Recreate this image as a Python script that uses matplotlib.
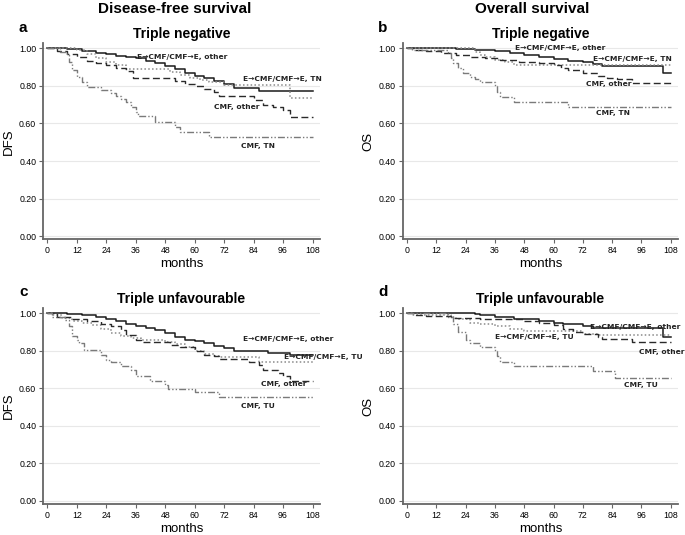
import matplotlib
matplotlib.use('Agg')
import matplotlib.pyplot as plt

plt.rcParams['font.family'] = ['Liberation Sans', 'DejaVu Sans']

# Kaplan-Meier step curves (months, survival)
# panel a: DFS, triple negative
a_other_t = [0, 8, 14, 20, 24, 28, 32, 36, 40, 44, 48, 52, 56, 60, 64, 68, 72, 76, 86, 108]
a_other_s = [1.0, 0.995, 0.985, 0.975, 0.97, 0.96, 0.955, 0.95, 0.935, 0.92, 0.905, 0.89, 0.87, 0.855, 0.84, 0.825, 0.81, 0.79, 0.775, 0.775]
a_tn_t = [0, 12, 16, 20, 24, 28, 32, 48, 50, 54, 58, 62, 66, 72, 99, 108]
a_tn_s = [1.0, 0.99, 0.97, 0.95, 0.93, 0.91, 0.89, 0.89, 0.875, 0.86, 0.845, 0.83, 0.82, 0.805, 0.735, 0.735]
a_cmfo_t = [0, 4, 8, 12, 16, 20, 24, 28, 32, 35, 48, 52, 56, 60, 64, 68, 70, 80, 84, 88, 92, 96, 99, 108]
a_cmfo_s = [1.0, 0.985, 0.97, 0.955, 0.935, 0.92, 0.91, 0.895, 0.88, 0.84, 0.84, 0.825, 0.81, 0.80, 0.785, 0.77, 0.745, 0.745, 0.725, 0.70, 0.69, 0.67, 0.635, 0.635]
a_cmft_t = [0, 5, 8, 9, 10, 12, 14, 16, 22, 26, 28, 30, 32, 34, 36, 37, 44, 52, 54, 66, 108]
a_cmft_s = [1.0, 0.98, 0.965, 0.93, 0.885, 0.85, 0.82, 0.795, 0.78, 0.765, 0.745, 0.73, 0.715, 0.69, 0.66, 0.64, 0.61, 0.58, 0.555, 0.53, 0.53]

# panel b: OS, triple negative
b_other_t = [0, 20, 28, 36, 42, 48, 54, 60, 66, 72, 76, 80, 105, 108]
b_other_s = [1.0, 0.995, 0.99, 0.985, 0.975, 0.965, 0.955, 0.945, 0.935, 0.925, 0.915, 0.905, 0.868, 0.868]
b_tn_t = [0, 28, 30, 32, 36, 40, 44, 108]
b_tn_s = [1.0, 0.98, 0.965, 0.955, 0.94, 0.925, 0.91, 0.91]
b_cmfo_t = [0, 3, 8, 14, 20, 26, 32, 38, 46, 54, 60, 63, 66, 72, 78, 82, 86, 92, 108]
b_cmfo_s = [1.0, 0.99, 0.985, 0.975, 0.965, 0.955, 0.95, 0.94, 0.93, 0.92, 0.91, 0.895, 0.885, 0.87, 0.855, 0.845, 0.835, 0.815, 0.815]
b_cmft_t = [0, 2, 17, 18, 19, 21, 23, 26, 28, 30, 36, 37, 38, 44, 66, 108]
b_cmft_s = [1.0, 0.99, 0.975, 0.95, 0.92, 0.895, 0.87, 0.85, 0.835, 0.82, 0.80, 0.77, 0.74, 0.715, 0.69, 0.69]

# panel c: DFS, triple unfavourable
c_other_t = [0, 8, 14, 20, 24, 28, 32, 36, 40, 44, 48, 52, 56, 60, 64, 68, 72, 76, 90, 99, 108]
c_other_s = [1.0, 0.995, 0.99, 0.98, 0.97, 0.96, 0.945, 0.93, 0.92, 0.91, 0.895, 0.875, 0.86, 0.85, 0.84, 0.825, 0.815, 0.80, 0.79, 0.775, 0.775]
c_tu_t = [0, 2, 6, 10, 14, 18, 22, 26, 30, 34, 38, 48, 52, 56, 60, 64, 68, 70, 86, 108]
c_tu_s = [1.0, 0.99, 0.975, 0.96, 0.95, 0.935, 0.915, 0.895, 0.88, 0.87, 0.86, 0.845, 0.835, 0.82, 0.80, 0.785, 0.77, 0.765, 0.74, 0.74]
c_cmfo_t = [0, 4, 10, 16, 22, 26, 30, 32, 36, 38, 50, 54, 60, 64, 68, 70, 82, 86, 88, 94, 96, 99, 108]
c_cmfo_s = [1.0, 0.98, 0.97, 0.96, 0.945, 0.93, 0.91, 0.885, 0.86, 0.845, 0.83, 0.82, 0.80, 0.78, 0.77, 0.755, 0.74, 0.725, 0.70, 0.68, 0.665, 0.64, 0.64]
c_cmft_t = [0, 2, 7, 9, 10, 12, 13, 15, 22, 24, 26, 30, 34, 36, 42, 48, 49, 60, 70, 108]
c_cmft_s = [1.0, 0.98, 0.965, 0.93, 0.88, 0.86, 0.84, 0.805, 0.78, 0.75, 0.74, 0.72, 0.70, 0.665, 0.64, 0.62, 0.595, 0.58, 0.555, 0.555]

# panel d: OS, triple unfavourable
d_other_t = [0, 28, 30, 36, 44, 54, 60, 64, 72, 76, 105, 108]
d_other_s = [1.0, 0.995, 0.99, 0.98, 0.97, 0.96, 0.95, 0.94, 0.93, 0.92, 0.875, 0.875]
d_tu_t = [0, 2, 18, 20, 26, 30, 36, 42, 48, 66, 72, 78, 108]
d_tu_s = [1.0, 0.99, 0.98, 0.97, 0.95, 0.94, 0.93, 0.915, 0.905, 0.905, 0.89, 0.883, 0.883]
d_cmfo_t = [0, 3, 8, 18, 30, 40, 48, 54, 60, 64, 68, 72, 78, 80, 92, 108]
d_cmfo_s = [1.0, 0.99, 0.985, 0.975, 0.97, 0.97, 0.96, 0.95, 0.935, 0.915, 0.90, 0.89, 0.875, 0.865, 0.845, 0.845]
d_cmft_t = [0, 16, 17, 19, 21, 24, 26, 30, 36, 37, 38, 44, 76, 85, 108]
d_cmft_s = [1.0, 1.0, 0.98, 0.94, 0.90, 0.86, 0.84, 0.82, 0.80, 0.77, 0.74, 0.72, 0.69, 0.655, 0.655]

x_ticks = [0, 12, 24, 36, 48, 60, 72, 84, 96, 108]
y_ticks = [0.0, 0.2, 0.4, 0.6, 0.8, 1.0]

# line styles: solid black, dotted grey, dashed black, dash-dot-dot grey
styles = [
    dict(color='#1a1a1a', lw=1.1, ls='-'),
    dict(color='#8a8a8a', lw=1.1, ls=(0, (1, 1.5))),
    dict(color='#2a2a2a', lw=1.0, ls=(0, (5, 2.5))),
    dict(color='#7a7a7a', lw=1.0, ls=(0, (5, 1.5, 1, 1.5, 1, 1.5))),
]

panels = [
    dict(rect=[0.063, 0.553, 0.404, 0.366], letter='a', title='Triple negative', ylabel='DFS',
         curves=[(a_other_t, a_other_s), (a_tn_t, a_tn_s), (a_cmfo_t, a_cmfo_s), (a_cmft_t, a_cmft_s)],
         labels=[('E\u2192CMF/CMF\u2192E, other', 36.4, 0.956), ('E\u2192CMF/CMF\u2192E, TN', 79.6, 0.835),
                 ('CMF, other', 68, 0.686), ('CMF, TN', 79, 0.479)]),
    dict(rect=[0.588, 0.553, 0.402, 0.366], letter='b', title='Triple negative', ylabel='OS',
         curves=[(b_other_t, b_other_s), (b_tn_t, b_tn_s), (b_cmfo_t, b_cmfo_s), (b_cmft_t, b_cmft_s)],
         labels=[('E\u2192CMF/CMF\u2192E, other', 44.3, 1.0), ('E\u2192CMF/CMF\u2192E, TN', 76, 0.941),
                 ('CMF, other', 73.4, 0.812), ('CMF, TN', 77.5, 0.657)]),
    dict(rect=[0.063, 0.058, 0.404, 0.366], letter='c', title='Triple unfavourable', ylabel='DFS',
         curves=[(c_other_t, c_other_s), (c_tu_t, c_tu_s), (c_cmfo_t, c_cmfo_s), (c_cmft_t, c_cmft_s)],
         labels=[('E\u2192CMF/CMF\u2192E, other', 79.6, 0.863), ('E\u2192CMF/CMF\u2192E, TU', 96.5, 0.769),
                 ('CMF, other', 87, 0.621), ('CMF, TU', 79, 0.505)]),
    dict(rect=[0.588, 0.058, 0.402, 0.366], letter='d', title='Triple unfavourable', ylabel='OS',
         curves=[(d_other_t, d_other_s), (d_tu_t, d_tu_s), (d_cmfo_t, d_cmfo_s), (d_cmft_t, d_cmft_s)],
         labels=[('E\u2192CMF/CMF\u2192E, other', 74.8, 0.929), ('E\u2192CMF/CMF\u2192E, TU', 36.2, 0.876),
                 ('CMF, other', 95.1, 0.796), ('CMF, TU', 88.8, 0.616)]),
]

fig = plt.figure(figsize=(6.85, 5.35), dpi=100)

for p in panels:
    ax = fig.add_axes(p['rect'])
    for (t, s), st in zip(p['curves'], styles):
        ax.plot(t, s, drawstyle='steps-post', **st)
    for txt, x, y in p['labels']:
        ax.text(x, y, txt, fontsize=5.4, fontweight='bold', color='#222222', va='center', ha='left',
                family=['DejaVu Sans'], clip_on=False)
    ax.set_xlim(-1.7, 111)
    ax.set_ylim(-0.016, 1.027)
    ax.set_xticks(x_ticks)
    ax.set_yticks(y_ticks)
    ax.set_yticklabels(['%.2f' % v for v in y_ticks])
    ax.grid(axis='y', color='#e8e8e8', lw=0.8)
    ax.set_axisbelow(True)
    for side in ['top', 'right']:
        ax.spines[side].set_visible(False)
    for side in ['left', 'bottom']:
        ax.spines[side].set_color('#666666')
        ax.spines[side].set_linewidth(1.3)
    ax.tick_params(labelsize=6.3, length=3, color='#666666', pad=2)
    ax.set_xlabel('months', fontsize=9.5, labelpad=2)
    ax.set_ylabel(p['ylabel'], fontsize=9.5, labelpad=3)
    ax.set_title(p['title'], fontsize=10, fontweight='bold', pad=4)
    ax.text(-0.072, 1.08, p['letter'], transform=ax.transAxes, fontsize=11, fontweight='bold',
            ha='center', va='center')

fig.text(0.255, 0.983, 'Disease-free survival', ha='center', va='center', fontsize=11, fontweight='bold')
fig.text(0.777, 0.983, 'Overall survival', ha='center', va='center', fontsize=11, fontweight='bold')

fig.savefig('out.png', dpi=100)
